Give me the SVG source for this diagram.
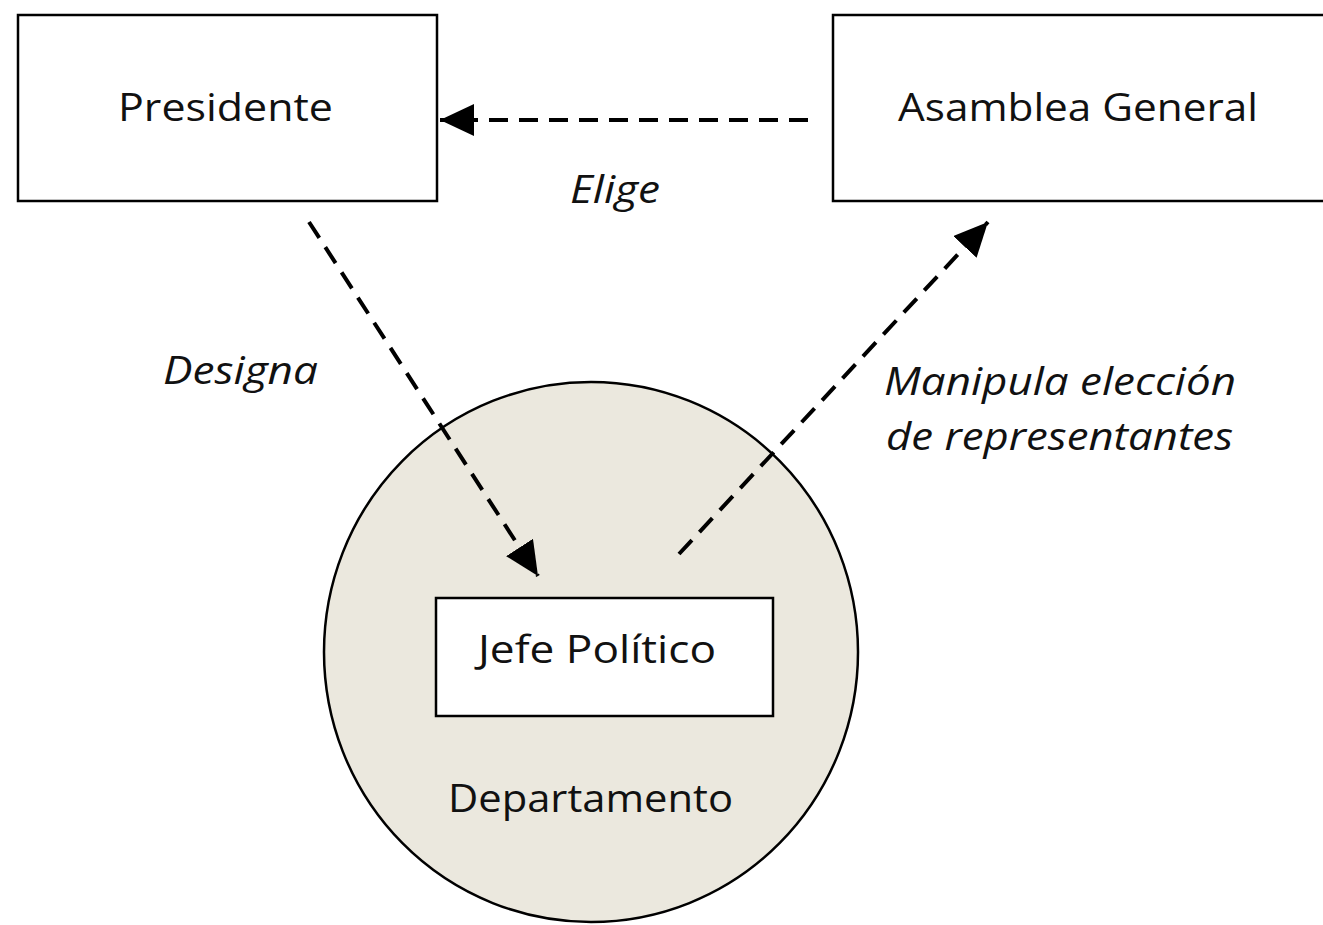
<svg xmlns="http://www.w3.org/2000/svg" width="1323" height="925" viewBox="0 0 1323 925">
<style>
.box{fill:#fff;stroke:#000;stroke-width:2.5}
.t{font-family:"Open Sans","Noto Sans","Liberation Sans",sans-serif;font-size:38px;fill:#111}
.i{font-style:italic}
.c{fill:none;stroke:#000;stroke-width:4;stroke-dasharray:19 11}
</style>
<defs>
<marker id="ah" markerUnits="userSpaceOnUse" markerWidth="36" markerHeight="34" refX="34" refY="16" orient="auto">
<path d="M0,0 L34,16 L0,32 Z" fill="#000"/>
</marker>
</defs>
<rect width="1323" height="925" fill="#fff"/>
<g id="departamento">
<ellipse cx="591" cy="652" rx="267" ry="270" fill="#ebe8de" stroke="#000" stroke-width="2.5"/>
<text class="t" x="448" y="812" textLength="285" lengthAdjust="spacingAndGlyphs">Departamento</text>
</g>
<g id="presidente">
<rect class="box" x="18" y="15" width="419" height="186"/>
<text class="t" x="118" y="121" textLength="215" lengthAdjust="spacingAndGlyphs">Presidente</text>
</g>
<g id="asamblea">
<rect class="box" x="833" y="15" width="495" height="186"/>
<text class="t" x="898" y="121" textLength="360" lengthAdjust="spacingAndGlyphs">Asamblea General</text>
</g>
<g id="jefe">
<rect class="box" x="436" y="598" width="337" height="118"/>
<text class="t" x="478" y="663" textLength="238" lengthAdjust="spacingAndGlyphs">Jefe Político</text>
</g>
<g id="connectors">
<line class="c" x1="808" y1="120" x2="440" y2="120" marker-end="url(#ah)"/>
<line class="c" x1="309" y1="222" x2="538" y2="576" marker-end="url(#ah)"/>
<line class="c" x1="679" y1="554" x2="988" y2="222" marker-end="url(#ah)"/>
</g>
<g id="labels">
<text class="t i" x="570" y="203" textLength="90" lengthAdjust="spacingAndGlyphs">Elige</text>
<text class="t i" x="163" y="384" textLength="155" lengthAdjust="spacingAndGlyphs">Designa</text>
<text class="t i" x="884" y="395" textLength="352" lengthAdjust="spacingAndGlyphs">Manipula elección</text>
<text class="t i" x="886" y="450" textLength="347" lengthAdjust="spacingAndGlyphs">de representantes</text>
</g>
</svg>
